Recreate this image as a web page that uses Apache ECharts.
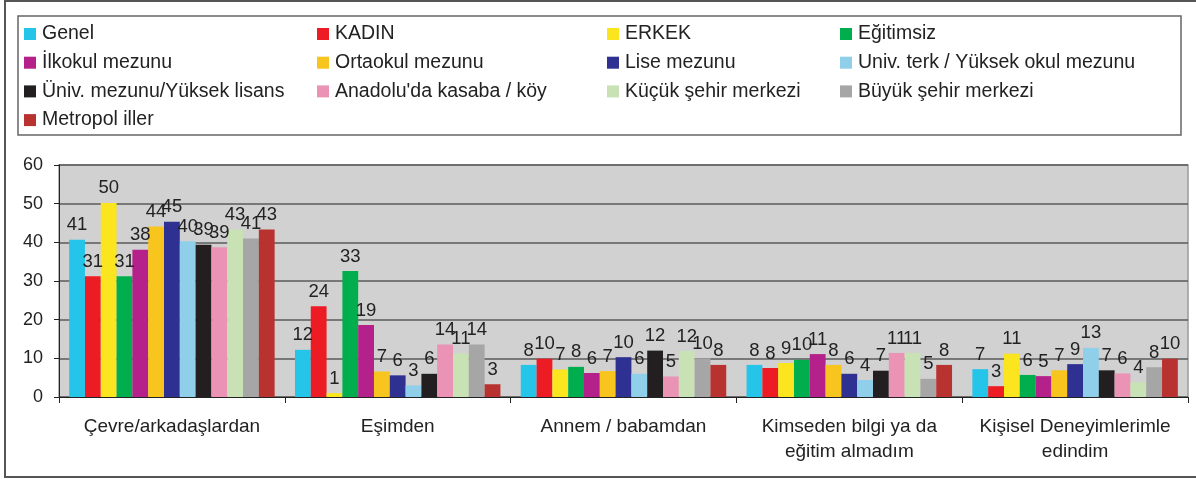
<!DOCTYPE html>
<html>
<head>
<meta charset="utf-8">
<script src="https://cdn.jsdelivr.net/npm/echarts@6/dist/echarts.min.js"></script>
<style>
  html, body { margin: 0; padding: 0; background: #fff; }
  #container { width: 1196px; height: 479px; }
</style>
</head>
<body>
<div id="container"></div>
<script>
// categories on the x axis
const categories = [
    'Çevre/arkadaşlardan',
    'Eşimden',
    'Annem / babamdan',
    'Kimseden bilgi ya da\neğitim almadım',
    'Kişisel Deneyimlerimle\nedindim'
];

// series names (legend order)
const seriesNames = [
    'Genel', 'KADIN', 'ERKEK', 'Eğitimsiz',
    'İlkokul mezunu', 'Ortaokul mezunu', 'Lise mezunu', 'Univ. terk / Yüksek okul mezunu',
    'Üniv. mezunu/Yüksek lisans', "Anadolu'da kasaba / köy", 'Küçük şehir merkezi', 'Büyük şehir merkezi',
    'Metropol iller'
];

const seriesColors = [
    '#25c4e9', '#ed1c24', '#fae51e', '#00ae4d',
    '#b5218a', '#f8c41e', '#2e3191', '#8fcfea',
    '#231f20', '#ea93b5', '#c9e2b5', '#a6a6a6',
    '#b83330'
];

// values per series, one per category
const genel      = [40.7, 12.2, 8.3, 8.3, 7.2];
const kadin      = [31.2, 23.5, 9.9, 7.5, 2.8];
const erkek      = [50.2, 1.0, 7.1, 8.8, 11.2];
const egitimsiz  = [31.2, 32.6, 7.8, 9.6, 5.7];
const ilkokul    = [38.1, 18.6, 6.2, 11.1, 5.4];
const ortaokul   = [44.1, 6.6, 6.7, 8.3, 6.9];
const lise       = [45.3, 5.6, 10.3, 6.0, 8.5];
const univTerk   = [40.3, 3.0, 6.0, 4.4, 12.7];
const univMezunu = [39.4, 6.0, 12.0, 6.8, 6.9];
const anadolu    = [38.7, 13.6, 5.3, 11.4, 6.1];
const kucukSehir = [43.3, 11.3, 11.9, 11.4, 3.8];
const buyukSehir = [41.0, 13.6, 10.0, 4.7, 7.7];
const metropol   = [43.3, 3.3, 8.3, 8.3, 9.9];

const allValues = [genel, kadin, erkek, egitimsiz, ilkokul, ortaokul, lise,
    univTerk, univMezunu, anadolu, kucukSehir, buyukSehir, metropol];

// y axis ticks
const yMin = 0, yMax = 60, yStep = 10;

// legend columns (as in the original Excel layout)
const legendColumns = [
    { left: 24,  names: [0, 4, 8, 12] },
    { left: 317, names: [1, 5, 9] },
    { left: 607, names: [2, 6, 10] },
    { left: 840, names: [3, 7, 11] }
];

const FONT = '"Liberation Sans", Arial, sans-serif';

const dom = document.getElementById('container');
const myChart = echarts.init(dom, null, { renderer: 'canvas' });

const series = seriesNames.map(function (name, i) {
    return {
        name: name,
        type: 'bar',
        barGap: '0%',
        barCategoryGap: '9%',
        itemStyle: { color: seriesColors[i] },
        label: {
            show: true,
            position: 'top',
            distance: 5,
            color: '#222',
            fontFamily: FONT,
            fontSize: 18.5,
            formatter: function (p) { return Math.round(p.value); }
        },
        data: allValues[i]
    };
});

const legends = legendColumns.map(function (col) {
    return {
        orient: 'vertical',
        left: col.left,
        top: 24,
        padding: 0,
        itemWidth: 12,
        itemHeight: 12,
        itemGap: 8.7,
        icon: 'rect',
        selectedMode: false,
        textStyle: {
            fontFamily: FONT,
            fontSize: 19.5,
            color: '#222',
            lineHeight: 20,
            padding: [0, 0, 0, 1]
        },
        data: col.names.map(function (k) { return seriesNames[k]; })
    };
});

const option = {
    backgroundColor: '#fff',
    animation: false,
    textStyle: { fontFamily: FONT },
    graphic: [
        {
            type: 'rect',
            shape: { x: 5, y: 1, width: 1200, height: 476 },
            style: { fill: 'none', stroke: '#555', lineWidth: 2 },
            silent: true,
            z: -1
        },
        {
            type: 'rect',
            shape: { x: 18, y: 16, width: 1163, height: 119 },
            style: { fill: 'none', stroke: '#666', lineWidth: 1.5 },
            silent: true,
            z: -1
        }
    ],
    legend: legends,
    grid: {
        left: 59,
        right: 8,
        top: 165,
        bottom: 82,
        show: true,
        backgroundColor: '#d1d1d1',
        borderColor: '#9a9a9a',
        borderWidth: 1.5
    },
    xAxis: {
        type: 'category',
        data: categories,
        axisLine: { lineStyle: { color: '#222', width: 1 } },
        axisTick: { show: true, interval: 0, length: 6, lineStyle: { color: '#222' } },
        axisLabel: {
            interval: 0,
            margin: 17,
            color: '#222',
            fontFamily: FONT,
            fontSize: 19,
            lineHeight: 25
        }
    },
    yAxis: {
        type: 'value',
        min: yMin,
        max: yMax,
        interval: yStep,
        axisLine: { show: true, lineStyle: { color: '#222', width: 1 } },
        axisTick: { show: true, length: 5, lineStyle: { color: '#222' } },
        axisLabel: {
            margin: 16,
            color: '#222',
            fontFamily: FONT,
            fontSize: 18
        },
        splitLine: { lineStyle: { color: '#5a5a5a', width: 1.5 } }
    },
    series: series
};

myChart.setOption(option);
</script>
</body>
</html>
